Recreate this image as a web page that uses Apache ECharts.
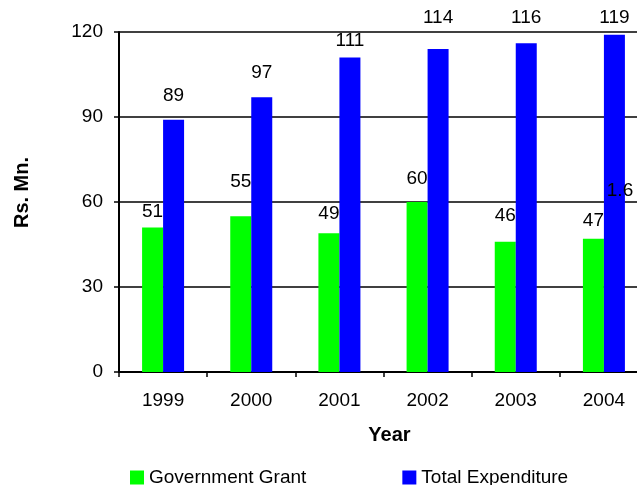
<!DOCTYPE html>
<html>
<head>
<meta charset="utf-8">
<title>Government Grant and Total Expenditure</title>
<script src="https://cdn.jsdelivr.net/npm/echarts@6/dist/echarts.min.js"></script>
<style>
  html, body { margin: 0; padding: 0; background: #fff; }
  #chart { width: 637px; height: 485px; }
</style>
</head>
<body>
<div id="chart"></div>
<script>
// Yearly figures in Rs. Mn.
const years = ['1999', '2000', '2001', '2002', '2003', '2004'];
const governmentGrant = [51, 55, 49, 60, 46, 47];
const totalExpenditure = [89, 97, 111, 114, 116, 119];
const yTicks = { min: 0, max: 120, interval: 30 };

// Hand-placed label heights above each bar (px)
const grantLabelLift = [6, 25, 10, 14, 16, 9];
const expenditureLabelLift = [15, 15, 7, 22, 16, 8];

const FONT = "'Liberation Sans', Arial, sans-serif";

function withLabelLift(values, lifts) {
  return values.map((v, i) => ({ value: v, label: { distance: lifts[i] } }));
}

const chart = echarts.init(document.getElementById('chart'), null, { renderer: 'canvas' });

const labelStyle = {
  show: true,
  position: 'top',
  color: '#000',
  fontFamily: FONT,
  fontSize: 19,
  lineHeight: 19
};

chart.setOption({
  animation: false,
  backgroundColor: '#fff',
  textStyle: { fontFamily: FONT },
  grid: {
    left: 119,
    top: 32,
    width: 529,
    height: 340,
    containLabel: false,
    outerBoundsMode: 'none'
  },
  legend: {
    left: 130,
    top: 468,
    padding: 0,
    itemWidth: 14,
    itemHeight: 14,
    itemGap: 96,
    icon: 'rect',
    textStyle: { fontFamily: FONT, fontSize: 19, color: '#000' },
    data: ['Government Grant', 'Total Expenditure']
  },
  xAxis: {
    type: 'category',
    data: years,
    boundaryGap: true,
    axisLine: { show: true, lineStyle: { color: '#000', width: 2 } },
    axisTick: { show: true, inside: false, length: 5, lineStyle: { color: '#000', width: 1.5 } },
    axisLabel: { color: '#000', fontFamily: FONT, fontSize: 19, margin: 19 },
    splitLine: { show: false }
  },
  yAxis: {
    type: 'value',
    min: yTicks.min,
    max: yTicks.max,
    interval: yTicks.interval,
    axisLine: { show: true, lineStyle: { color: '#000', width: 2 } },
    axisTick: { show: true, inside: false, length: 5, lineStyle: { color: '#000', width: 1.5 } },
    axisLabel: { color: '#000', fontFamily: FONT, fontSize: 19, margin: 16 },
    splitLine: { show: true, lineStyle: { color: '#000', width: 1.5 } }
  },
  series: [
    {
      name: 'Government Grant',
      type: 'bar',
      barWidth: 21,
      barGap: '0%',
      itemStyle: { color: '#00ff00' },
      label: labelStyle,
      data: withLabelLift(governmentGrant, grantLabelLift)
    },
    {
      name: 'Total Expenditure',
      type: 'bar',
      barWidth: 21,
      barGap: '0%',
      itemStyle: { color: '#0000ff' },
      label: labelStyle,
      data: withLabelLift(totalExpenditure, expenditureLabelLift)
    }
  ],
  graphic: [
    {
      type: 'text',
      x: 389.5,
      y: 435,
      style: {
        text: 'Year',
        fill: '#000',
        font: "bold 20px 'Liberation Sans', Arial, sans-serif",
        textAlign: 'center',
        textVerticalAlign: 'middle'
      }
    },
    {
      type: 'text',
      x: 22,
      y: 192.5,
      rotation: Math.PI / 2,
      style: {
        text: 'Rs. Mn.',
        fill: '#000',
        font: "bold 20px 'Liberation Sans', Arial, sans-serif",
        textAlign: 'center',
        textVerticalAlign: 'middle'
      }
    },
    {
      type: 'text',
      x: 620,
      y: 190.5,
      z: 100,
      style: {
        text: '1.6',
        fill: '#000',
        font: "19px 'Liberation Sans', Arial, sans-serif",
        textAlign: 'center',
        textVerticalAlign: 'middle'
      }
    }
  ]
});
</script>
</body>
</html>
